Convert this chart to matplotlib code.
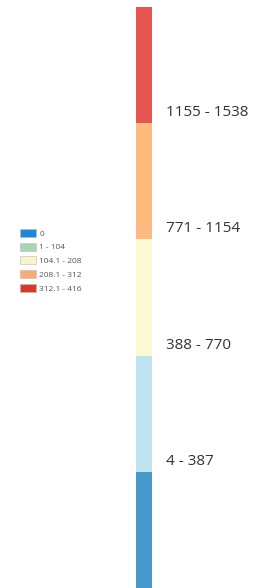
import matplotlib
matplotlib.use("Agg")
import matplotlib.pyplot as plt
from matplotlib.patches import Patch

# Colour bar classes (bottom to top)
bar_labels = ["", "4 - 387", "388 - 770", "771 - 1154", "1155 - 1538"]
bar_colors = ["#4597cc", "#bfe3ef", "#fcf9d3", "#fdbb7f", "#e65550"]

# Small legend classes (top to bottom)
legend_labels = ["0", "1 - 104", "104.1 - 208", "208.1 - 312", "312.1 - 416"]
legend_colors = ["#1e88d8", "#a8d6b3", "#f7f6c8", "#f4ad76", "#d63a2f"]

W, H = 264, 588
fig = plt.figure(figsize=(W / 100, H / 100), dpi=100)

# Vertical colour bar
ax = fig.add_axes([136 / W, 0, 15.5 / W, 581 / H])
n = len(bar_colors)
ax.bar([0] * n, [1] * n, bottom=list(range(n)), width=1.0, color=bar_colors,
       edgecolor="none")
ax.set_xlim(-0.5, 0.5)
ax.set_ylim(0, n)
ax.axis("off")
for i, lab in enumerate(bar_labels):
    if lab:
        ax.annotate(lab, xy=(1.0, i + 0.09), xycoords=("axes fraction", "data"),
                    xytext=(15, 0), textcoords="offset pixels",
                    ha="left", va="center", fontsize=11, family="Open Sans",
                    color="#333333")

# Small legend at left
handles = [Patch(facecolor=c, edgecolor="#bbbbbb", linewidth=0.4) for c in legend_colors]
fig.legend(handles, legend_labels, loc="upper left",
           bbox_to_anchor=(13 / W, 1 - 222 / H), frameon=False,
           prop={"family": "Open Sans", "size": 6},
           handlelength=1.9, handleheight=1.1, handletextpad=0.45,
           labelspacing=0.6, borderpad=0.3, labelcolor="#555555")

fig.savefig("out.png", dpi=100)
